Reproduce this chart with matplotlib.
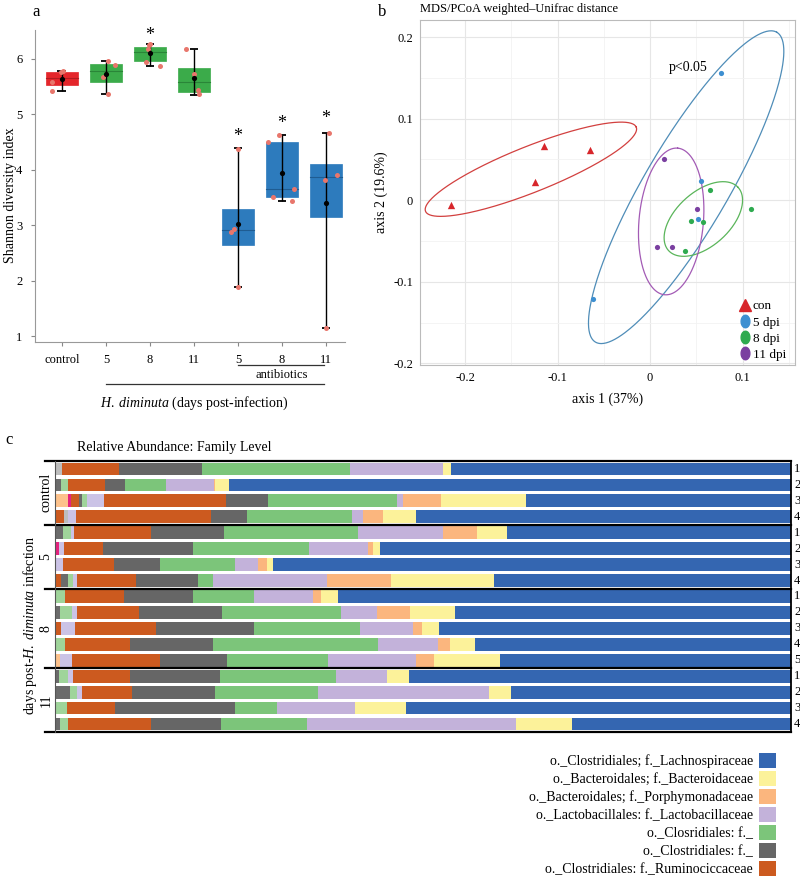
import numpy as np
import matplotlib.pyplot as plt
import matplotlib.transforms as mtransforms
from matplotlib.patches import Patch
from matplotlib.lines import Line2D
from matplotlib.path import Path

plt.rcParams['font.family'] = ['Liberation Serif', 'DejaVu Serif']
plt.rcParams['mathtext.fontset'] = 'custom'
plt.rcParams['mathtext.rm'] = 'Liberation Serif'
plt.rcParams['mathtext.it'] = 'Liberation Serif:italic'

# ---------------- panel a: Shannon diversity ----------------
groups_a = ['control', '5', '8', '11', '5', '8', '11']
box_q1 = [5.53, 5.59, 5.96, 5.41, 2.65, 3.51, 3.16]
box_med = [5.65, 5.78, 6.12, 5.58, 2.91, 3.65, 3.87]
box_q3 = [5.76, 5.91, 6.22, 5.83, 3.29, 4.51, 4.10]
whis_lo = [5.42, 5.36, 5.88, 5.34, 1.89, 3.44, 1.15]
whis_hi = [5.78, 5.96, 6.26, 6.18, 4.39, 4.62, 4.67]
box_mean = [5.64, 5.73, 6.10, 5.66, 3.02, 3.95, 3.40]
obs_values = [[5.42, 5.58, 5.76, 5.78],
              [5.37, 5.68, 5.89, 5.97],
              [5.88, 5.95, 6.17, 6.25, 6.27],
              [6.18, 5.73, 5.44, 5.36],
              [4.38, 2.88, 2.93, 1.89],
              [4.50, 4.63, 3.66, 3.51, 3.44],
              [4.67, 3.91, 3.82, 1.15]]
obs_jitter = [[-0.23, -0.23, -0.02, 0.03],
              [0.05, -0.07, 0.2, 0.05],
              [0.23, -0.09, -0.05, -0.02, 0.0],
              [-0.18, 0.0, 0.09, 0.11],
              [0.0, -0.16, -0.09, 0.0],
              [-0.32, -0.07, 0.27, -0.2, 0.23],
              [0.07, 0.25, -0.02, 0.0]]
star_y = [None, None, 6.42, None, 4.6, 4.83, 4.93]
box_colors = ['#e4262b', '#3bab4a', '#3bab4a', '#3bab4a', '#2d7bbd', '#2d7bbd', '#2d7bbd']
med_colors = ['#b01c20', '#2a8538', '#2a8538', '#2a8538', '#1f5c92', '#1f5c92', '#1f5c92']

# ---------------- panel b: PCoA ----------------
con_x = [-0.215, -0.125, -0.115, -0.065]
con_y = [-0.006, 0.022, 0.066, 0.061]
d5_x = [0.077, 0.055, 0.052, -0.062]
d5_y = [0.156, 0.023, -0.023, -0.121]
d8_x = [0.065, 0.109, 0.044, 0.057, 0.038]
d8_y = [0.013, -0.011, -0.025, -0.027, -0.062]
d11_x = [0.015, 0.051, 0.007, 0.024]
d11_y = [0.050, -0.011, -0.057, -0.057]
# ellipse: centre x, centre y, axis-1 vector, axis-2 vector
ell_con = [-0.129, 0.038, 0.114, 0.0516, 0.0093, -0.026]
ell_d5 = [0.039, 0.016, 0.098, 0.190, 0.0396, -0.0256]
ell_d8 = [0.0576, -0.023, 0.0375, 0.0389, 0.0199, -0.0241]
ell_d11 = [0.0228, -0.026, 0.0070, 0.0899, 0.0347, -0.0034]

# ---------------- panel c: relative abundance ----------------
group_names_c = ['control', '5', '8', '11']
group_sizes_c = [4, 4, 5, 4]
row_labels_c = ['1', '2', '3', '4', '1', '2', '3', '4', '1', '2', '3', '4', '5', '1', '2', '3', '4']
m_peach = [0, 0, 1.8, 0, 0, 0, 0, 0, 0, 0, 0, 0, 0.7, 0, 0, 0, 0]
m_pink = [0, 0, 0.4, 0, 0, 0.5, 0, 0, 0, 0, 0, 0, 0, 0, 0, 0, 0]
m_rust = [0, 0, 1.1, 1.2, 0, 0, 0, 0.8, 0, 0, 0.8, 0, 0, 0, 0, 0, 0]
m_silver = [0.95, 0, 0, 0.5, 0, 0, 0, 0, 0, 0, 0, 0, 0, 0, 0, 0, 0]
m_gray = [0, 0.8, 0.4, 0, 1.1, 0, 0, 1.0, 0, 0.7, 0, 0, 0, 0.5, 2.0, 0, 0.7]
m_lgreen = [0, 1.0, 0.7, 0, 1.1, 0, 0, 0.7, 1.4, 1.6, 0, 1.4, 0, 1.2, 1.0, 1.6, 1.0]
m_lilac = [0, 0, 2.3, 1.2, 0.4, 0.7, 1.1, 0.5, 0, 0.7, 1.9, 0, 1.6, 0.8, 0.7, 0, 0]
rumino = [7.7, 5.0, 16.6, 18.3, 10.5, 5.3, 6.9, 8.0, 8.0, 8.4, 11.0, 8.8, 12.0, 7.7, 6.7, 6.5, 11.4]
clos_gray = [11.3, 2.7, 5.7, 4.9, 9.9, 12.2, 6.3, 8.4, 9.4, 11.3, 13.3, 11.3, 9.1, 12.2, 11.3, 16.4, 9.5]
clos_green = [20.1, 5.6, 17.5, 14.3, 18.2, 15.8, 10.2, 2.0, 8.2, 16.2, 14.4, 22.4, 13.7, 15.8, 14.1, 5.7, 11.7]
lacto = [12.6, 6.5, 0.8, 1.4, 11.5, 8.0, 3.1, 15.5, 8.0, 4.9, 7.2, 8.2, 12.0, 6.9, 23.2, 10.6, 28.4]
porphy = [0, 0.2, 5.2, 2.7, 4.6, 0.7, 1.2, 8.7, 1.1, 4.5, 1.2, 1.6, 2.4, 0, 0, 0, 0]
bactero = [1.2, 1.9, 11.5, 4.5, 4.1, 1.0, 0.8, 14.1, 2.4, 6.0, 2.4, 3.4, 9.0, 3.0, 3.0, 6.9, 7.6]
lachno = [46.1, 76.3, 36.0, 51.0, 38.6, 55.8, 70.4, 40.3, 61.5, 45.7, 47.8, 42.9, 39.5, 51.9, 38.0, 52.3, 29.7]
family_labels = ['o._Clostridiales; f._Lachnospiraceae',
                 'o._Bacteroidales; f._Bacteroidaceae',
                 'o._Bacteroidales; f._Porphymonadaceae',
                 'o._Lactobacillales: f._Lactobacillaceae',
                 'o._Closridiales: f._',
                 'o._Clostridiales: f._',
                 'o._Clostridiales: f._Ruminociccaceae']

fig = plt.figure(figsize=(8, 8.92), dpi=100)

# ======== a ========
ax_a = fig.add_axes([0.04375, 0.6166, 0.3875, 0.3498])
xpos = np.arange(1, 8)
for i in range(len(groups_a)):
    x = xpos[i]
    ax_a.bar(x, box_q3[i] - box_q1[i], bottom=box_q1[i], width=0.74,
             color=box_colors[i], edgecolor=box_colors[i], lw=0.5, zorder=1)
    ax_a.plot([x - 0.37, x + 0.37], [box_med[i], box_med[i]], color=med_colors[i], lw=0.8, zorder=2)
    ax_a.vlines(x, whis_lo[i], whis_hi[i], color='black', lw=1, zorder=3)
    ax_a.hlines([whis_lo[i], whis_hi[i]], x - 0.1, x + 0.1, color='black', lw=1.3, zorder=3)
    ax_a.scatter(x + np.array(obs_jitter[i]), obs_values[i], s=13, color='#e8766c', lw=0, zorder=4)
    ax_a.scatter([x], [box_mean[i]], s=14, color='black', lw=0, zorder=5)
    if star_y[i] is not None:
        ax_a.text(x, star_y[i], '*', ha='center', va='center', fontsize=13, clip_on=False)

ax_a.set_xlim(0.39, 7.43)
ax_a.set_ylim(0.9, 6.52)
ax_a.set_yticks([1, 2, 3, 4, 5, 6])
ax_a.set_xticks(xpos, groups_a)
ax_a.tick_params(labelsize=9, color='#888888', length=3, pad=6)
for s in ['top', 'right']:
    ax_a.spines[s].set_visible(False)
for s in ['left', 'bottom']:
    ax_a.spines[s].set_color('#999999')
ax_a.set_ylabel('Shannon diversity index', fontsize=10)
ax_a.yaxis.set_label_coords(-0.058, 0.47)

trans_a = mtransforms.blended_transform_factory(ax_a.transData, ax_a.transAxes)
ax_a.plot([5, 6.95], [-0.074, -0.074], color='#333333', lw=0.9, transform=trans_a, clip_on=False)
ax_a.text(6.0, -0.106, 'antibiotics', ha='center', va='center', fontsize=9, transform=trans_a)
ax_a.plot([2, 6.95], [-0.135, -0.135], color='#333333', lw=0.9, transform=trans_a, clip_on=False)
ax_a.text(4.0, -0.197, r'$\mathit{H.\ diminuta}$ (days post-infection)', ha='center', va='center',
          fontsize=10, transform=trans_a)

fig.text(32 / 800, 1 - 12 / 892, 'a', fontsize=12, ha='left', va='center')
fig.text(378 / 800, 1 - 12 / 892, 'b', fontsize=12, ha='left', va='center')
fig.text(5 / 800, 1 - 440 / 892, 'c', fontsize=12, ha='left', va='center')

# ======== b ========
ax_b = fig.add_axes([0.525, 0.5908, 0.469, 0.3868])
t = np.linspace(0, 2 * np.pi, 400)
for e, col in zip([ell_con, ell_d5, ell_d8, ell_d11], ['#d2403f', '#4f8db8', '#5ab55a', '#a35bb5']):
    ax_b.plot(e[0] + e[2] * np.cos(t) + e[4] * np.sin(t),
              e[1] + e[3] * np.cos(t) + e[5] * np.sin(t), color=col, lw=0.9, zorder=2)

c_con, c_5, c_8, c_11 = '#d7262b', '#3d8fd1', '#2eaa4f', '#7a3fa0'
ax_b.scatter(con_x, con_y, marker='^', s=28, color=c_con, lw=0, zorder=3)
ax_b.scatter(d5_x, d5_y, s=14, color=c_5, lw=0, zorder=3)
ax_b.scatter(d8_x, d8_y, s=14, color=c_8, lw=0, zorder=3)
ax_b.scatter(d11_x, d11_y, s=14, color=c_11, lw=0, zorder=3)
ax_b.text(0.0207, 0.163, 'p<0.05', fontsize=10, ha='left', va='center')

ax_b.set_xlim(-0.249, 0.157)
ax_b.set_ylim(-0.202, 0.221)
ax_b.set_xticks([-0.2, -0.1, 0, 0.1], ['-0.2', '-0.1', '0', '0.1'])
ax_b.set_yticks([-0.2, -0.1, 0, 0.1, 0.2], ['-0.2', '-0.1', '0', '0.1', '0.2'])
ax_b.set_xticks([-0.15, -0.05, 0.05, 0.15], minor=True)
ax_b.set_yticks([-0.15, -0.05, 0.05, 0.15], minor=True)
ax_b.grid(True, which='major', color='#e6e6e6', lw=0.8)
ax_b.grid(True, which='minor', color='#f2f2f2', lw=0.6)
ax_b.set_axisbelow(True)
ax_b.tick_params(which='both', length=0, labelsize=9, pad=5)
for s in ax_b.spines.values():
    s.set_color('#bbbbbb')
ax_b.set_xlabel('axis 1 (37%)', fontsize=10, labelpad=6)
ax_b.set_ylabel('axis 2 (19.6%)', fontsize=10, labelpad=4)
ax_b.set_title('MDS/PCoA weighted\u2013Unifrac distance', fontsize=9, loc='left', x=0.0, pad=6)

tt = np.linspace(0, 2 * np.pi, 60)
oval = Path(np.column_stack([0.7 * np.cos(tt), np.sin(tt)]))
handles_b = [Line2D([], [], ls='', marker='^', markersize=8, color=c_con),
             Line2D([], [], ls='', marker=oval, markersize=9, color=c_5),
             Line2D([], [], ls='', marker=oval, markersize=9, color=c_8),
             Line2D([], [], ls='', marker=oval, markersize=9, color=c_11)]
ax_b.legend(handles_b, ['con', '5 dpi', '8 dpi', '11 dpi'], loc='lower right',
            bbox_to_anchor=(1.0, -0.015), frameon=False, fontsize=9.5, handlelength=0.6,
            handletextpad=0.25, labelspacing=0.3, borderpad=0.2)

# ======== c ========
ax_c = fig.add_axes([0.06875, 0.1794, 0.92, 0.3038])
stack = [(m_peach, '#fdc28c'), (m_pink, '#e4237e'), (m_rust, '#cc5a1f'), (m_silver, '#bdbdbd'),
         (m_gray, '#6b6b6b'), (m_lgreen, '#9fd49a'), (m_lilac, '#cbc3e6'),
         (rumino, '#cc5a1f'), (clos_gray, '#666666'), (clos_green, '#7cc57a'),
         (lacto, '#c3b2da'), (porphy, '#fbb67e'), (bactero, '#fcf29a'), (lachno, '#3466b1')]
rows = np.arange(len(row_labels_c))
left = np.zeros(len(rows))
for vals, col in stack:
    vals = np.array(vals, dtype=float)
    ax_c.barh(rows, vals, left=left, height=0.8, color=col, lw=0)
    left += vals

ax_c.set_xlim(0, 100)
ax_c.set_ylim(len(rows) - 0.5, -0.5)
ax_c.set_xticks([])
ax_c.set_yticks([])
ax_c.spines['left'].set_color('#555555')
ax_c.spines['left'].set_linewidth(0.8)
ax_c.spines['right'].set_linewidth(1.3)
ax_c.spines['top'].set_visible(False)
ax_c.spines['bottom'].set_visible(False)

trans_c = mtransforms.blended_transform_factory(ax_c.transAxes, ax_c.transData)
edges = np.concatenate([[0], np.cumsum(group_sizes_c)]) - 0.5
for yb in edges:
    ax_c.plot([-0.014, 1.0], [yb, yb], color='black', lw=1.6, transform=trans_c, clip_on=False)
for i, lab in enumerate(row_labels_c):
    ax_c.text(1.004, i, lab, fontsize=9, ha='left', va='center', transform=trans_c)
for g, name in enumerate(group_names_c):
    ymid = (edges[g] + edges[g + 1]) / 2
    ax_c.text(-0.0125, ymid, name, fontsize=10, rotation=90, ha='center', va='center', transform=trans_c)
ax_c.text(-0.034, 0.395, r'days post-$\mathit{H.\ diminuta}$ infection', fontsize=10, rotation=90,
          ha='center', va='center', transform=ax_c.transAxes)
ax_c.text(0.03, 1.05, 'Relative Abundance: Family Level', fontsize=10, ha='left', va='center',
          transform=ax_c.transAxes)

leg_cols = ['#3466b1', '#fcf29a', '#fbb67e', '#c3b2da', '#7cc57a', '#666666', '#cc5a1f']
handles_c = [Patch(facecolor=c, edgecolor='none') for c in leg_cols]
fig.legend(handles_c, family_labels, loc='upper right', bbox_to_anchor=(776 / 800, 1 - 753 / 892),
           markerfirst=False, frameon=False, fontsize=10, handlelength=1.25, handleheight=1.25,
           labelspacing=0.22, borderaxespad=0, borderpad=0, handletextpad=0.4)

fig.savefig('out.png', dpi=100)
